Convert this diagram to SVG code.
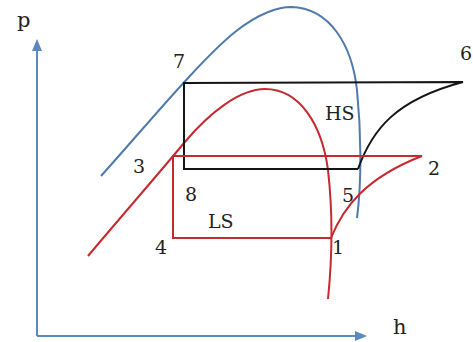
<svg xmlns="http://www.w3.org/2000/svg" width="473" height="342" viewBox="0 0 473 342">
<style>
.ax{stroke:#5a88c0;stroke-width:2;fill:none}
.ah{fill:#5a88c0}
.blue{stroke:#4f7aaa;stroke-width:2;fill:none}
.red{stroke:#c42a2f;stroke-width:2;fill:none;stroke-linejoin:miter}
.blk{stroke:#151515;stroke-width:2;fill:none;stroke-linejoin:miter}
.lbl{font-family:'DejaVu Serif',serif;font-size:19px;fill:#222}
.big{font-size:21px}
</style>
<rect width="473" height="342" fill="#fff"/>
<g id="axes">
<line class="ax" x1="37" y1="336" x2="37" y2="50"/>
<polygon class="ah" points="37,39 32,51 42,51"/>
<line class="ax" x1="37" y1="336" x2="356" y2="336"/>
<polygon class="ah" points="367,336 355,331 355,341"/>
<text class="lbl big" x="17" y="27">p</text>
<text class="lbl big" x="393" y="334">h</text>
</g>
<g id="connectors">
<path id="dome-hs" class="blue" d="M101,176 C140,133 200,60 235,32 C260,12 280,7 291,7 C330,8 352,45 357,90 C361,130 362,180 357,218"/>
<path id="dome-ls" class="red" d="M88,256 C120,218 160,172 184,143 C210,112 240,89 265,89 C300,89 322,125 328,170 C332,205 333,250 328,299"/>
<path id="cycle-hs" class="blk" d="M358,169 L184,169 L184,83 L463,82 C395,100 372,130 358,169"/>
<path id="cycle-ls" class="red" d="M331,238 L173,238 L173,156 L422,156 C365,178 343,208 331,238"/>
</g>
<g class="lbl">
<g id="node-1"><text x="332" y="254">1</text></g>
<g id="node-2"><text x="428" y="175">2</text></g>
<g id="node-3"><text x="133" y="173">3</text></g>
<g id="node-4"><text x="155" y="254">4</text></g>
<g id="node-5"><text x="342" y="202">5</text></g>
<g id="node-6"><text x="460" y="60">6</text></g>
<g id="node-7"><text x="173" y="68">7</text></g>
<g id="node-8"><text x="185" y="201">8</text></g>
<g id="label-hs"><text x="325" y="120">HS</text></g>
<g id="label-ls"><text x="208" y="228">LS</text></g>
</g>
</svg>
